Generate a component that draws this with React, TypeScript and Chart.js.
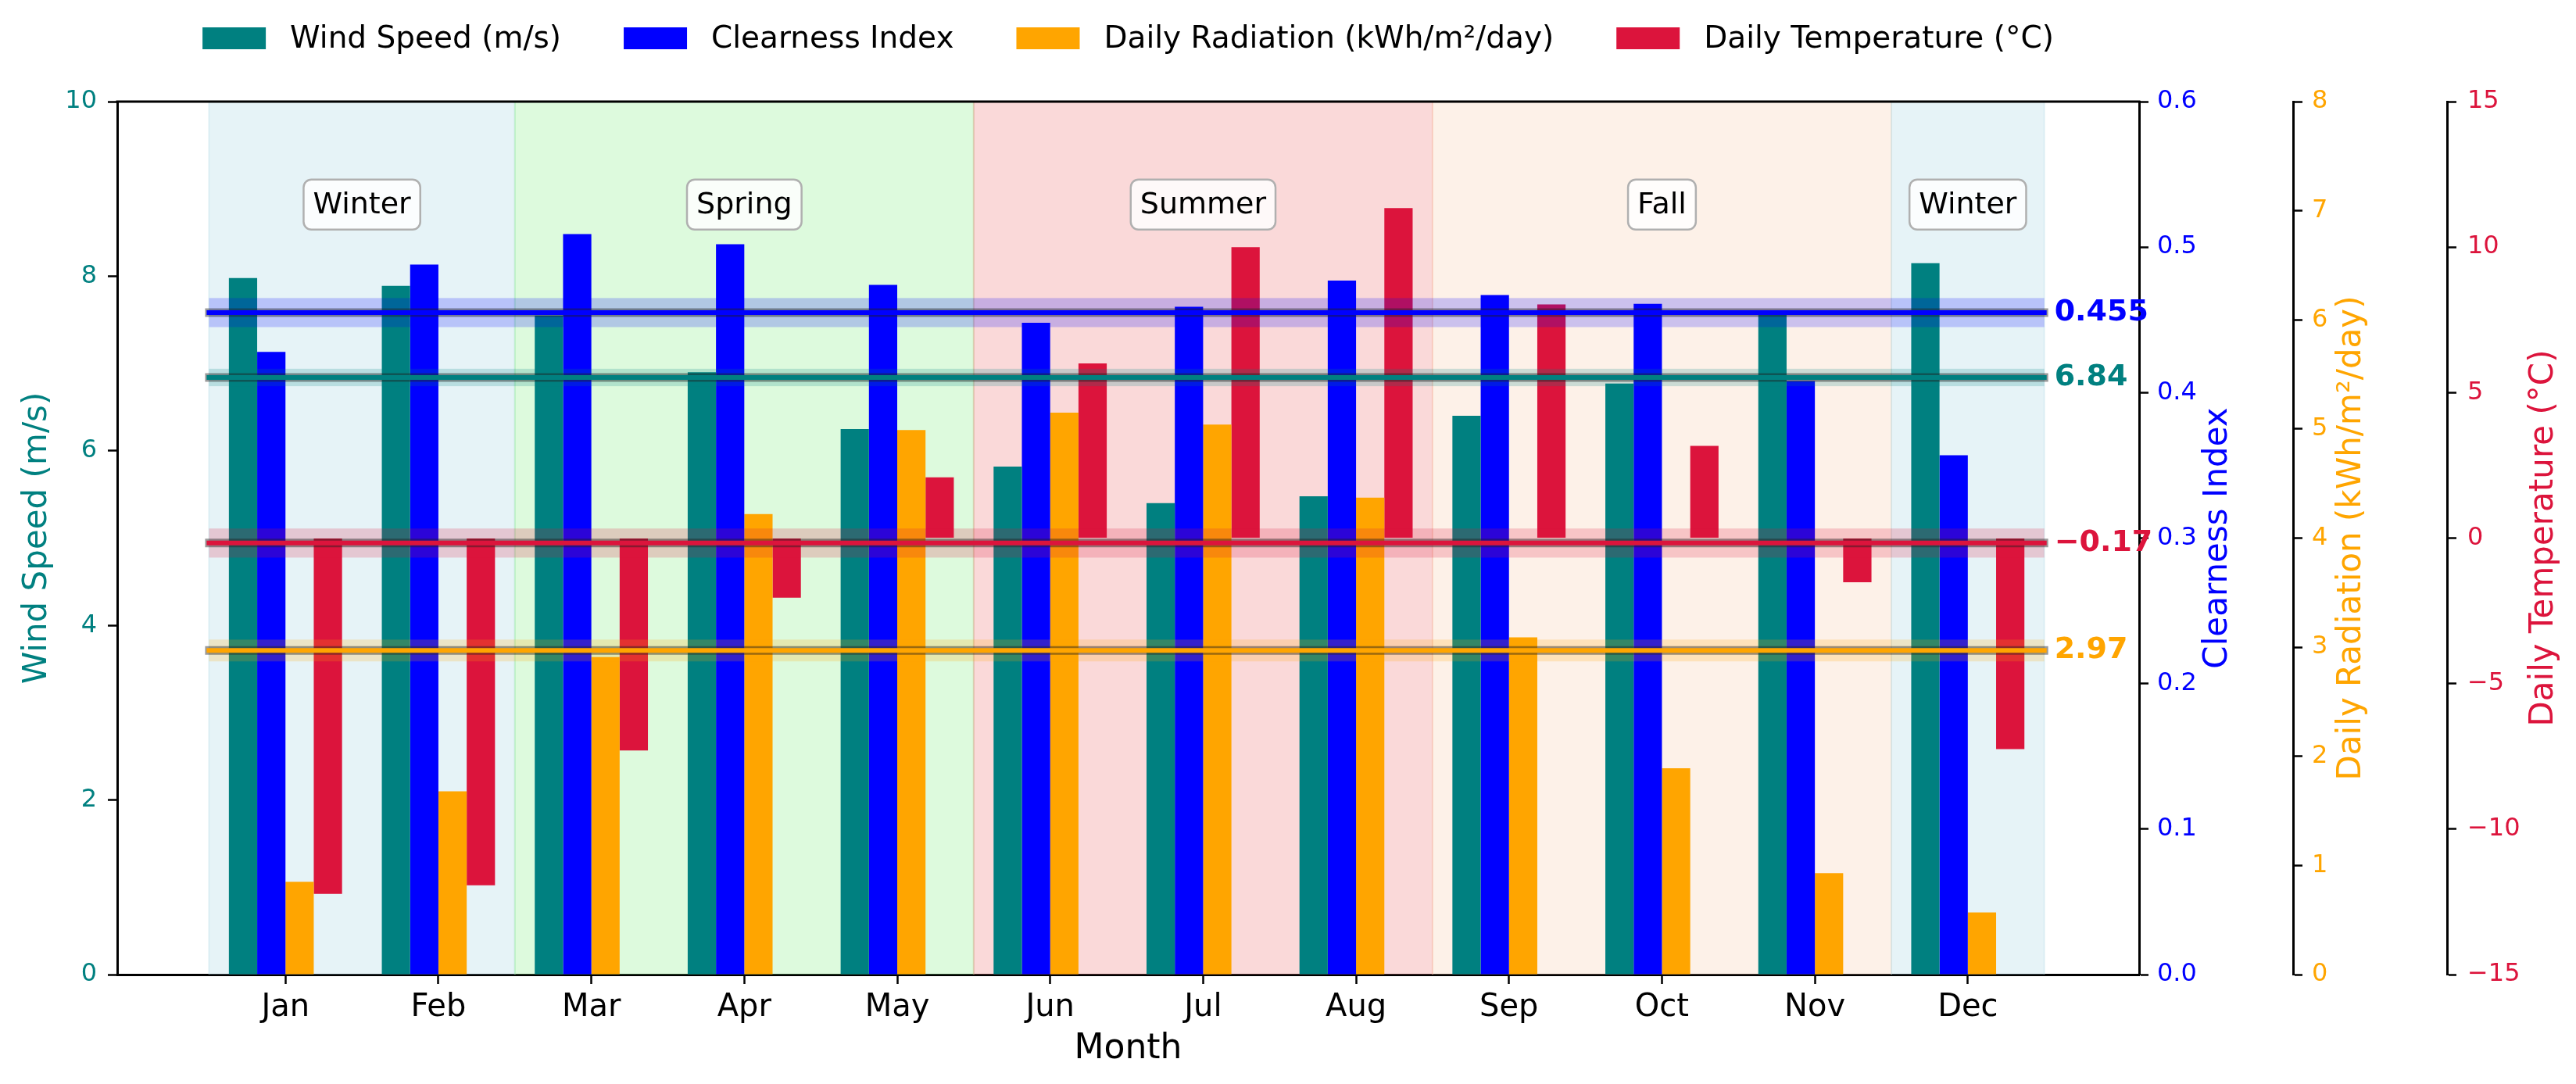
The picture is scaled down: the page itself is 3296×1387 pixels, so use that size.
import React, { useEffect, useRef } from 'react';
import { Chart, registerables } from 'chart.js';

Chart.register(...registerables);

// ---------- data ----------
const months = ['Jan', 'Feb', 'Mar', 'Apr', 'May', 'Jun', 'Jul', 'Aug', 'Sep', 'Oct', 'Nov', 'Dec'];
const windSpeed = [7.98, 7.89, 7.55, 6.9, 6.25, 5.82, 5.4, 5.48, 6.4, 6.77, 7.58, 8.15];
const clearnessIndex = [0.428, 0.488, 0.509, 0.502, 0.474, 0.448, 0.459, 0.477, 0.467, 0.461, 0.408, 0.357];
const dailyRadiation = [0.85, 1.68, 2.91, 4.22, 4.99, 5.15, 5.04, 4.37, 3.09, 1.89, 0.93, 0.57];
const dailyTemperature = [-12.23, -11.93, -7.3, -2.05, 2.09, 6.0, 10.0, 11.34, 8.03, 3.17, -1.52, -7.25];

const seriesNames = ['Wind Speed (m/s)', 'Clearness Index', 'Daily Radiation (kWh/m²/day)', 'Daily Temperature (°C)'];
const seriesColors = ['#008080', '#0000ff', '#ffa500', '#dc143c'];
const seriesBands = ['rgba(0,128,128,0.2)', 'rgba(0,0,255,0.2)', 'rgba(255,165,0,0.2)', 'rgba(220,20,60,0.2)'];
const axisIds = ['yWind', 'yClear', 'yRad', 'yTemp'];

const meanValues = [6.84, 0.455, 2.97, -0.17];
const meanLabels = ['6.84', '0.455', '2.97', '\u22120.17'];
const meanHalfBand = [0.1, 0.01, 0.1, 0.5];

const seasonNames = ['Winter', 'Spring', 'Summer', 'Fall', 'Winter'];
const seasonStart = [-0.5, 1.5, 4.5, 7.5, 10.5];
const seasonEnd = [1.5, 4.5, 7.5, 10.5, 11.5];
const seasonFill = [
  'rgba(173,216,230,0.3)',
  'rgba(144,238,144,0.3)',
  'rgba(240,128,128,0.3)',
  'rgba(250,208,178,0.3)',
  'rgba(173,216,230,0.3)',
];
const seasonLabelLevel = 8.82; // on wind axis

const FONT = "'DejaVu Sans', sans-serif";
const FONT_CSS = "'DejaVu Sans', sans-serif";

const seriesValues = [windSpeed, clearnessIndex, dailyRadiation, dailyTemperature];

const fmtMinus = (v: number) => (v < 0 ? '\u2212' + Math.abs(v) : String(v));

const decorPlugin = {
  id: 'decor',
  beforeDatasetsDraw(chart: any) {
    const { ctx, chartArea: a, scales } = chart;
    const xs = scales.x;
    ctx.save();
    ctx.beginPath();
    ctx.rect(a.left, a.top, a.right - a.left, a.bottom - a.top);
    ctx.clip();
    seasonNames.forEach((_, i) => {
      const x0 = xs.getPixelForValue(seasonStart[i]);
      const x1 = xs.getPixelForValue(seasonEnd[i]);
      ctx.fillStyle = seasonFill[i];
      ctx.fillRect(x0, a.top, x1 - x0, a.bottom - a.top);
      ctx.strokeStyle = seasonFill[i];
      ctx.lineWidth = 2;
      ctx.beginPath();
      ctx.moveTo(x0, a.top);
      ctx.lineTo(x0, a.bottom);
      ctx.moveTo(x1, a.top);
      ctx.lineTo(x1, a.bottom);
      ctx.stroke();
    });
    ctx.restore();
  },
  afterDatasetsDraw(chart: any) {
    const { ctx, scales } = chart;
    const xs = scales.x;
    const x0 = xs.getPixelForValue(-0.5);
    const x1 = xs.getPixelForValue(11.5);
    ctx.save();
    // bands
    axisIds.forEach((id, k) => {
      const ys = scales[id];
      const yt = ys.getPixelForValue(meanValues[k] + meanHalfBand[k]);
      const yb = ys.getPixelForValue(meanValues[k] - meanHalfBand[k]);
      ctx.fillStyle = seriesBands[k];
      ctx.fillRect(x0, yt, x1 - x0, yb - yt);
    });
    // lines
    axisIds.forEach((id, k) => {
      const ys = scales[id];
      const y = ys.getPixelForValue(meanValues[k]);
      ctx.lineCap = 'butt';
      ctx.strokeStyle = 'rgba(30,30,30,0.45)';
      ctx.lineWidth = 11;
      ctx.beginPath();
      ctx.moveTo(x0 - 5, y);
      ctx.lineTo(x1 + 5, y);
      ctx.stroke();
      ctx.strokeStyle = seriesColors[k];
      ctx.lineWidth = 6;
      ctx.beginPath();
      ctx.moveTo(x0 - 3, y);
      ctx.lineTo(x1 + 3, y);
      ctx.stroke();
    });
    // labels
    ctx.font = `bold 38px ${FONT_CSS}`;
    ctx.textAlign = 'left';
    ctx.textBaseline = 'middle';
    axisIds.forEach((id, k) => {
      const ys = scales[id];
      const y = ys.getPixelForValue(meanValues[k]);
      ctx.fillStyle = seriesColors[k];
      ctx.fillText(meanLabels[k], x1 + 13, y);
    });
    // season labels
    const yw = scales.yWind;
    ctx.font = `38px ${FONT_CSS}`;
    ctx.textAlign = 'center';
    ctx.textBaseline = 'middle';
    seasonNames.forEach((name, i) => {
      const cx = xs.getPixelForValue((seasonStart[i] + seasonEnd[i]) / 2);
      const cy = yw.getPixelForValue(seasonLabelLevel);
      const w = ctx.measureText(name).width + 24;
      const h = 64;
      ctx.beginPath();
      ctx.roundRect(cx - w / 2, cy - h / 2, w, h, 10);
      ctx.fillStyle = 'rgba(255,255,255,0.85)';
      ctx.fill();
      ctx.strokeStyle = '#b0b0b0';
      ctx.lineWidth = 2.5;
      ctx.stroke();
      ctx.fillStyle = '#000';
      ctx.fillText(name, cx, cy + 1);
    });
    ctx.restore();
  },
  afterDraw(chart: any) {
    const { ctx, chartArea: a, scales } = chart;
    ctx.save();
    // top spine
    ctx.strokeStyle = '#000';
    ctx.lineWidth = 3;
    ctx.beginPath();
    ctx.moveTo(a.left - 1.5, a.top);
    ctx.lineTo(a.right + 1.5, a.top);
    ctx.stroke();

    // legend
    ctx.font = `39px ${FONT_CSS}`;
    ctx.textBaseline = 'middle';
    ctx.textAlign = 'left';
    const boxW = 81;
    const boxH = 28;
    const gapText = 31;
    const gapItem = 80;
    const widths = seriesNames.map((n) => ctx.measureText(n).width);
    const total = widths.reduce((s, w) => s + boxW + gapText + w, 0) + gapItem * (seriesNames.length - 1);
    let x = (a.left + a.right) / 2 - total / 2;
    const ly = 49;
    seriesNames.forEach((n, k) => {
      ctx.fillStyle = seriesColors[k];
      ctx.fillRect(x, ly - boxH / 2, boxW, boxH);
      x += boxW + gapText;
      ctx.fillStyle = '#000';
      ctx.fillText(n, x, ly + 2);
      x += widths[k] + gapItem;
    });

    // y-axis titles (rotated, reading bottom-to-top)
    const cy = (a.top + a.bottom) / 2;
    const titleX = [
      48,
      scales.yClear.left + 101,
      scales.yRad.left + 75,
      scales.yTemp.left + 124,
    ];
    ctx.font = `42px ${FONT_CSS}`;
    ctx.textAlign = 'center';
    ctx.textBaseline = 'middle';
    seriesNames.forEach((n, k) => {
      ctx.save();
      ctx.translate(titleX[k], cy);
      ctx.rotate(-Math.PI / 2);
      ctx.fillStyle = seriesColors[k];
      ctx.fillText(n, 0, 0);
      ctx.restore();
    });
    ctx.restore();
  },
};

const tickGrid = {
  drawOnChartArea: false,
  drawTicks: true,
  tickLength: 12,
  tickWidth: 2.5,
  tickColor: '#000',
  offset: false,
};
const border = { display: true, color: '#000', width: 3 };

export default function App() {
  const ref = useRef<HTMLCanvasElement>(null);

  useEffect(() => {
    if (!ref.current) return;
    const chart = new Chart(ref.current, {
      type: 'bar',
      data: {
        datasets: seriesValues.map((vals, k) => ({
          label: seriesNames[k],
          data: vals.map((v, i) => ({ x: i, y: v })),
          backgroundColor: seriesColors[k],
          borderWidth: 0,
          xAxisID: 'x',
          yAxisID: axisIds[k],
          categoryPercentage: 0.74,
          barPercentage: 1.0,
        })),
      },
      options: {
        animation: false,
        responsive: false,
        devicePixelRatio: 1,
        events: [],
        layout: { padding: { top: 130, left: 0, right: 0, bottom: 0 } },
        plugins: {
          legend: { display: false },
          tooltip: { enabled: false },
        },
        scales: {
          x: {
            type: 'linear',
            position: 'bottom',
            min: -1.1,
            max: 12.12,
            offset: false,
            afterBuildTicks: (s: any) => {
              s.ticks = months.map((_, i) => ({ value: i }));
            },
            ticks: {
              autoSkip: false,
              maxRotation: 0,
              padding: 7,
              color: '#000',
              font: { family: FONT, size: 40 },
              callback: (v: any) => months[Math.round(Number(v))] ?? '',
            },
            grid: tickGrid,
            border,
            title: {
              display: true,
              text: 'Month',
              color: '#000',
              font: { family: FONT, size: 44 },
              padding: { top: 0, bottom: 18 },
            },
            afterFit: (s: any) => {
              s.height = 140;
            },
          },
          yWind: {
            type: 'linear',
            position: 'left',
            min: 0,
            max: 10,
            ticks: { stepSize: 2, color: seriesColors[0], font: { family: FONT, size: 32 }, padding: 14 },
            grid: tickGrid,
            border,
            afterFit: (s: any) => {
              s.width = 150;
            },
          },
          yClear: {
            type: 'linear',
            position: 'right',
            weight: 0,
            min: 0,
            max: 0.6,
            ticks: {
              stepSize: 0.1,
              color: seriesColors[1],
              font: { family: FONT, size: 32 },
              padding: 11,
              callback: (v: any) => Number(v).toFixed(1),
            },
            grid: tickGrid,
            border,
            afterFit: (s: any) => {
              s.width = 197;
            },
          },
          yRad: {
            type: 'linear',
            position: 'right',
            weight: 1,
            min: 0,
            max: 8,
            ticks: { stepSize: 1, color: seriesColors[2], font: { family: FONT, size: 32 }, padding: 12 },
            grid: tickGrid,
            border,
            afterFit: (s: any) => {
              s.width = 197;
            },
          },
          yTemp: {
            type: 'linear',
            position: 'right',
            weight: 2,
            min: -15,
            max: 15,
            ticks: {
              stepSize: 5,
              color: seriesColors[3],
              font: { family: FONT, size: 32 },
              padding: 14,
              callback: (v: any) => fmtMinus(Number(v)),
            },
            grid: tickGrid,
            border,
            afterFit: (s: any) => {
              s.width = 165;
            },
          },
        },
      } as any,
      plugins: [decorPlugin],
    });
    return () => chart.destroy();
  }, []);

  return (
    <div style={{ position: 'absolute', left: 0, top: 0, width: 3296, height: 1387, background: '#fff' }}>
      <canvas ref={ref} width={3296} height={1387} style={{ display: 'block', width: '3296px', height: '1387px' }} />
    </div>
  );
}
